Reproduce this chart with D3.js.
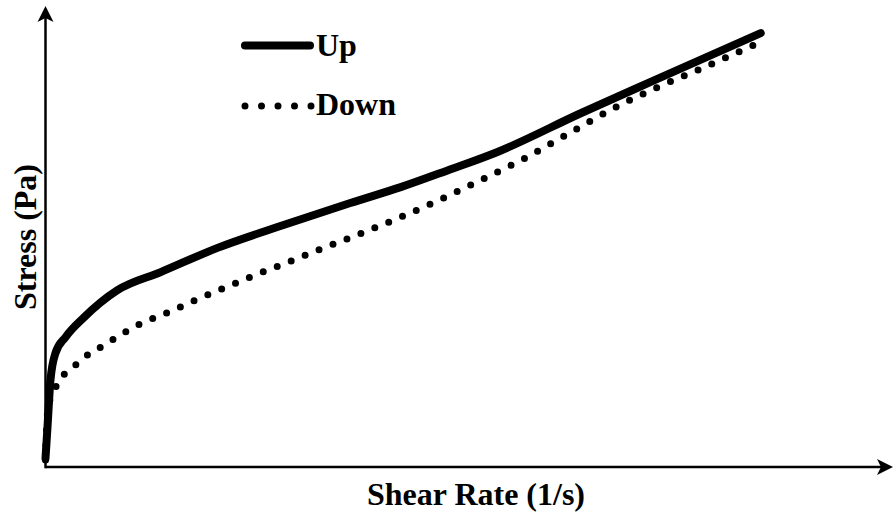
<!DOCTYPE html>
<html>
<head>
<meta charset="utf-8">
<script src="https://cdn.jsdelivr.net/npm/d3@7"></script>
<style>
  html, body { margin: 0; padding: 0; background: #fff; }
  svg { display: block; }
</style>
</head>
<body>
<svg id="chart" width="893" height="512"></svg>
<script>
// Flow curve: shear rate (arbitrary units) vs. stress (arbitrary units)
const upRate   = [0, 0.25, 0.625, 1.25, 2.5, 4.75, 9, 14.4, 21.5, 29.75, 38.1, 44.4, 50.25, 56.5, 66.9, 76, 89.4];
const upStress = [2.0, 9.1, 19.8, 25.9, 29.5, 33.9, 40.2, 44.3, 49.8, 55.0, 60.0, 63.6, 67.4, 71.6, 80.4, 87.8, 98.6];

const downRate   = [0, 0.125, 0.375, 0.875, 1.75, 3.25, 4.75, 6.5, 8.1, 11.6, 15.4, 19.1, 22.9, 26.6, 30.4, 34.1, 37.9, 43.5, 49.25, 54.75, 60.25, 65.5, 70.9, 76.25, 81.9, 89.4];
const downStress = [1.6, 8.4, 14.1, 16.4, 19.8, 22.3, 24.8, 26.8, 28.6, 32.3, 35.2, 38.2, 41.1, 43.9, 46.6, 49.3, 52.0, 56.1, 60.7, 65.5, 70.5, 75.9, 81.4, 86.1, 90.5, 96.6];

const seriesNames = ["Up", "Down"];
const xTitle = "Shear Rate (1/s)";
const yTitle = "Stress (Pa)";

const FONT = "'Liberation Serif', 'Times New Roman', Times, 'DejaVu Serif', serif";

const svg = d3.select("#chart");

const x = d3.scaleLinear().domain([0, 100]).range([45.5, 845.5]);
const y = d3.scaleLinear().domain([0, 100]).range([467, 27]);

const upData = upRate.map((r, i) => [r, upStress[i]]);
const downData = downRate.map((r, i) => [r, downStress[i]]);

const line = d3.line()
  .x(d => x(d[0]))
  .y(d => y(d[1]))
  .curve(d3.curveMonotoneX);

// Axes: plain lines ending in arrowheads, no ticks
const x0 = x(0), y0 = y(0);
svg.append("line")
  .attr("x1", x0).attr("y1", y0).attr("x2", 886).attr("y2", y0)
  .attr("stroke", "#000").attr("stroke-width", 2.5);
svg.append("line")
  .attr("x1", x0).attr("y1", y0 + 1.2).attr("x2", x0).attr("y2", 14)
  .attr("stroke", "#000").attr("stroke-width", 2.5);

// arrowheads
svg.append("path")
  .attr("d", `M${x0},6 L${x0 + 8},22 L${x0},18 L${x0 - 8},22 Z`)
  .attr("fill", "#000");
svg.append("path")
  .attr("d", `M893,${y0} L877,${y0 - 8} L881,${y0} L877,${y0 + 8} Z`)
  .attr("fill", "#000");

// Down curve (dotted)
svg.append("path")
  .datum(downData)
  .attr("d", line)
  .attr("fill", "none")
  .attr("stroke", "#000")
  .attr("stroke-width", 7)
  .attr("stroke-linecap", "round")
  .attr("stroke-dasharray", "0 15");

// Up curve (solid)
svg.append("path")
  .datum(upData)
  .attr("d", line)
  .attr("fill", "none")
  .attr("stroke", "#000")
  .attr("stroke-width", 8)
  .attr("stroke-linecap", "round")
  .attr("stroke-linejoin", "round");

// Legend
const legend = svg.append("g");
legend.append("line")
  .attr("x1", 245).attr("y1", 45.5).attr("x2", 310).attr("y2", 45.5)
  .attr("stroke", "#000").attr("stroke-width", 8).attr("stroke-linecap", "round");
legend.append("line")
  .attr("x1", 245).attr("y1", 106).attr("x2", 312).attr("y2", 106)
  .attr("stroke", "#000").attr("stroke-width", 7).attr("stroke-linecap", "round")
  .attr("stroke-dasharray", "0 16.5");

function label(sel) {
  return sel.attr("font-family", FONT)
    .attr("font-weight", "bold")
    .attr("font-size", 32)
    .attr("fill", "#000");
}

legend.append("text").attr("x", 316).attr("y", 56).call(label).text(seriesNames[0]);
legend.append("text").attr("x", 316).attr("y", 115).call(label).text(seriesNames[1]);

// Axis titles
svg.append("text")
  .attr("x", 476).attr("y", 505)
  .attr("text-anchor", "middle")
  .call(label)
  .text(xTitle);
svg.append("text")
  .attr("transform", "translate(36,237) rotate(-90)")
  .attr("text-anchor", "middle")
  .call(label)
  .text(yTitle);
</script>
</body>
</html>
